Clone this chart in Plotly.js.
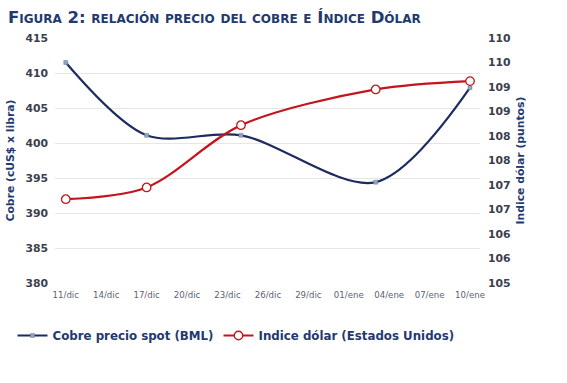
<!DOCTYPE html>
<html>
<head>
<meta charset="utf-8">
<script src="https://cdn.plot.ly/plotly-3.0.1.min.js"></script>
<style>html,body{margin:0;padding:0;background:#fff;}#chart{width:567px;height:383px;}</style>
</head>
<body>
<div id="chart"></div>
<script>
// Data
const dates = ["2013-12-11", "2013-12-17", "2013-12-24", "2014-01-03", "2014-01-10"];
const cobre = [411.5, 401.1, 401.1, 394.4, 407.9];
const indiceDolar = [106.71, 106.95, 108.22, 108.95, 109.12];

const xTickVals = ["2013-12-11","2013-12-14","2013-12-17","2013-12-20","2013-12-23","2013-12-26","2013-12-29","2014-01-01","2014-01-04","2014-01-07","2014-01-10"];
const xTickText = ["11/dic","14/dic","17/dic","20/dic","23/dic","26/dic","29/dic","01/ene","04/ene","07/ene","10/ene"];
const y1TickVals = [380, 385, 390, 395, 400, 405, 410, 415];
const y2TickVals = [105, 105.5, 106, 106.5, 107, 107.5, 108, 108.5, 109, 109.5, 110];
const y2TickText = ["105","106","106","107","107","108","108","109","109","110","110"];

const navy = "#1d2b5e";
const red = "#c4141c";
const tickCol = "#3c3f4e";

const traces = [
  {
    x: dates, y: cobre, name: "Cobre precio spot (BML)", type: "scatter", mode: "lines+markers",
    line: {color: navy, width: 2.2, shape: "spline", smoothing: 0.9},
    marker: {symbol: "square", size: 4, color: "#8fa3c2", line: {color: "#6f82a3", width: 0.5}},
    yaxis: "y"
  },
  {
    x: dates, y: indiceDolar, name: "Indice dólar (Estados Unidos)", type: "scatter", mode: "lines+markers",
    line: {color: red, width: 2.2, shape: "spline", smoothing: 0.9},
    marker: {symbol: "circle", size: 8.5, color: "#ffffff", line: {color: red, width: 1.3}},
    yaxis: "y2"
  }
];

const layout = {
  width: 567, height: 383,
  paper_bgcolor: "#ffffff", plot_bgcolor: "#ffffff",
  margin: {l: 55, r: 87, t: 37.5, b: 99.5, pad: 0, autoexpand: false},
  font: {family: "DejaVu Sans, Verdana, sans-serif", color: tickCol},
  title: {
    text: "<b>Figura 2: relación precio del cobre e Índice Dólar</b>",
    font: {family: "DejaVu Sans, sans-serif", size: 16.5, color: "#1f3a6e", variant: "small-caps"},
    x: 0.014, xanchor: "left", xref: "container",
    y: 0.955, yanchor: "middle", yref: "container"
  },
  xaxis: {
    type: "date", automargin: false,
    range: ["2013-12-10 04:48", "2014-01-10 17:45"],
    tickmode: "array", tickvals: xTickVals, ticktext: xTickText,
    tickfont: {size: 8.6, color: "#5a5f70", family: "DejaVu Sans, sans-serif"},
    showgrid: false, zeroline: false, showline: false, ticks: "",
    ticklabelstandoff: 5
  },
  yaxis: {
    range: [380, 415], automargin: false,
    tickmode: "array", tickvals: y1TickVals,
    tickfont: {size: 10.8, color: tickCol, family: "DejaVu Sans, sans-serif", weight: "bold"},
    showgrid: true, gridcolor: "#e6e6e6", gridwidth: 1,
    zeroline: false, showline: false, ticks: "",
    ticklabelstandoff: 6,
    title: {text: "<b>Cobre (cUS$ x libra)</b>", font: {size: 10.8, color: "#1f3a6e"}, standoff: 8}
  },
  yaxis2: {
    overlaying: "y", side: "right", automargin: false,
    range: [105, 110],
    tickmode: "array", tickvals: y2TickVals, ticktext: y2TickText,
    tickfont: {size: 10.8, color: tickCol, family: "DejaVu Sans, sans-serif", weight: "bold"},
    showgrid: false, zeroline: false, showline: false, ticks: "",
    ticklabelstandoff: 7,
    title: {text: "<b>Indice dólar (puntos)</b>", font: {size: 10.8, color: "#1f3a6e"}, standoff: 6}
  },
  showlegend: true,
  legend: {
    orientation: "h",
    x: -0.1, xanchor: "left",
    y: -0.155, yanchor: "top",
    font: {size: 11.8, color: "#1f3a6e", family: "DejaVu Sans, sans-serif", weight: "bold"},
    itemwidth: 30,
    tracegroupgap: 0,
    bgcolor: "rgba(0,0,0,0)"
  }
};

Plotly.newPlot("chart", traces, layout, {displayModeBar: false, staticPlot: true});
</script>
</body>
</html>
